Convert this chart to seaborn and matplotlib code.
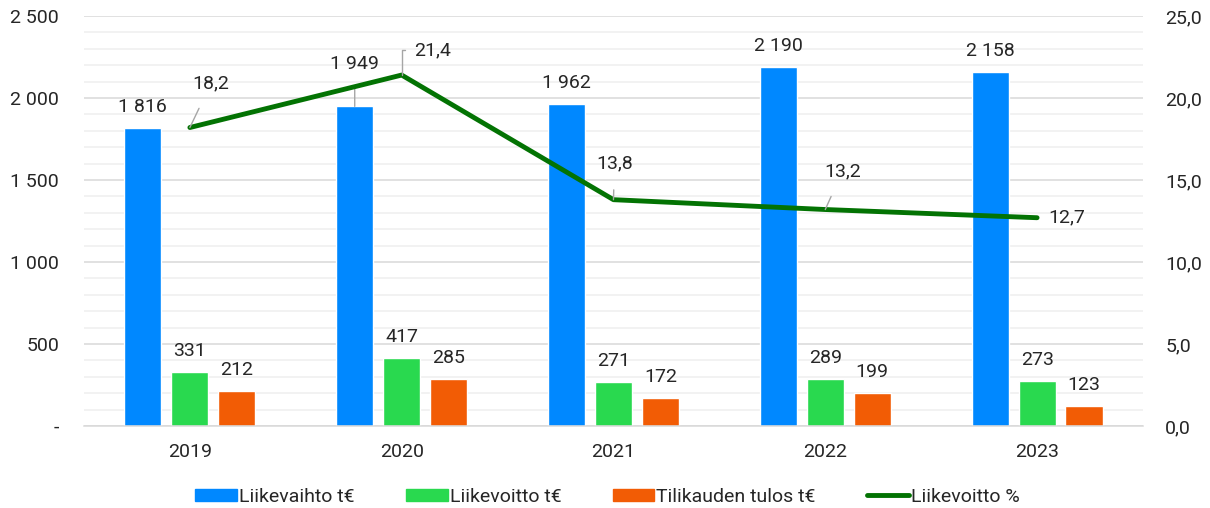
import numpy as np
import pandas as pd
import matplotlib.pyplot as plt
import seaborn as sns
from matplotlib.patches import Patch
from matplotlib.lines import Line2D
from matplotlib.ticker import MultipleLocator

# --- Data ---
years = ["2019", "2020", "2021", "2022", "2023"]
liikevaihto = [1816, 1949, 1962, 2190, 2158]
liikevoitto = [331, 417, 271, 289, 273]
tilikauden_tulos = [212, 285, 172, 199, 123]
liikevoitto_pct = [18.2, 21.4, 13.8, 13.2, 12.7]

series_names = ["Liikevaihto t€", "Liikevoitto t€", "Tilikauden tulos t€"]
line_name = "Liikevoitto %"
colors = ["#0088FF", "#29D94F", "#F25C05"]
line_color = "#037303"
text_color = "#262626"
FS = 14

df = pd.DataFrame({
    "vuosi": years * 3,
    "sarja": [s for s in series_names for _ in years],
    "arvo": liikevaihto + liikevoitto + tilikauden_tulos,
})

sns.set_theme(style="white")
plt.rcParams['font.family'] = ['Roboto', 'DejaVu Sans']
plt.rcParams['text.color'] = text_color

fig = plt.figure(figsize=(12.1, 5.08), dpi=100)
ax = fig.add_axes([0.0694, 0.1614, 0.8752, 0.8071])

sns.barplot(data=df, x="vuosi", y="arvo", hue="sarja", palette=colors,
            width=0.665, gap=0.21, saturation=1, legend=False, ax=ax)

ax.set_ylim(0, 2500)
ax.yaxis.set_major_locator(MultipleLocator(500))
ax.yaxis.set_minor_locator(MultipleLocator(100))
ax.grid(True, which="major", axis="y", color="#d9d9d9", lw=1.1)
ax.grid(True, which="minor", axis="y", color="#efefef", lw=1.1)
ax.set_axisbelow(True)
ax.set_xlabel("")
ax.set_ylabel("")
for s in ["top", "right", "left"]:
    ax.spines[s].set_visible(False)
ax.spines["bottom"].set_color("#d9d9d9")
ax.spines["bottom"].set_linewidth(1.1)
ax.tick_params(axis="both", which="both", length=0, labelsize=FS,
               colors=text_color)
ax.tick_params(axis="x", pad=12)
ax.tick_params(axis="y", pad=18)
ax.set_yticks([0, 500, 1000, 1500, 2000, 2500])
ax.set_yticklabels(["-", "500", "1 000", "1 500", "2 000", "2 500"])

# bar labels
for i, cont in enumerate(ax.containers):
    for j, bar in enumerate(cont):
        h = bar.get_height()
        x = bar.get_x() + bar.get_width() / 2
        lbl = f"{int(h):,}".replace(",", " ")
        if i == 0 and j == 1:
            ax.annotate(lbl, (x, h), xytext=(0, 42), textcoords="offset pixels",
                        ha="center", va="center", fontsize=FS,
                        arrowprops=dict(arrowstyle="-", color="#a6a6a6", lw=1,
                                        shrinkA=9, shrinkB=0))
        else:
            ax.annotate(lbl, (x, h), xytext=(0, 21), textcoords="offset pixels",
                        ha="center", va="center", fontsize=FS)

# secondary axis with line
ax2 = ax.twinx()
xpos = np.arange(len(years))
sns.lineplot(x=xpos, y=liikevoitto_pct, color=line_color, lw=3.5, ax=ax2)
ax2.set_ylim(0, 25)
ax2.set_yticks([0, 5, 10, 15, 20, 25])
ax2.set_yticklabels([f"{v:.1f}".replace(".", ",") for v in [0, 5, 10, 15, 20, 25]])
ax2.tick_params(axis="y", length=0, labelsize=FS, pad=16, colors=text_color)
for s in ax2.spines.values():
    s.set_visible(False)
ax2.grid(False)
ax.set_xlim(-0.5, len(years) - 0.5)

leader = dict(arrowstyle="-", color="#a6a6a6", lw=1, shrinkB=0)
offsets = [(21, 44), (31, 25), (1, 36), (17, 38), (11, 0)]
for k, (xv, yv) in enumerate(zip(xpos, liikevoitto_pct)):
    lbl = f"{yv:.1f}".replace(".", ",")
    dx, dy = offsets[k]
    if k == 1:
        ax2.annotate(lbl, (xv, yv), xytext=(dx, dy), textcoords="offset pixels",
                     ha="center", va="center", fontsize=FS,
                     arrowprops=dict(leader, shrinkA=4, relpos=(0, 0.5),
                                     connectionstyle="angle,angleA=180,angleB=90,rad=0"))
    elif k == 4:
        ax2.annotate(lbl, (xv, yv), xytext=(dx, dy), textcoords="offset pixels",
                     ha="left", va="center", fontsize=FS)
    else:
        ax2.annotate(lbl, (xv, yv), xytext=(dx, dy), textcoords="offset pixels",
                     ha="center", va="center", fontsize=FS,
                     arrowprops=dict(leader, shrinkA=10))

handles = [Patch(color=c, label=n) for c, n in zip(colors, series_names)]
handles.append(Line2D([], [], color=line_color, lw=3.5, label=line_name))
fig.legend(handles=handles, loc="center", bbox_to_anchor=(0.502, 0.022),
           ncol=4, frameon=False, fontsize=FS, handlelength=2.15,
           handleheight=0.55, handletextpad=0.1, columnspacing=2.65)

fig.savefig("out.png", dpi=100)
